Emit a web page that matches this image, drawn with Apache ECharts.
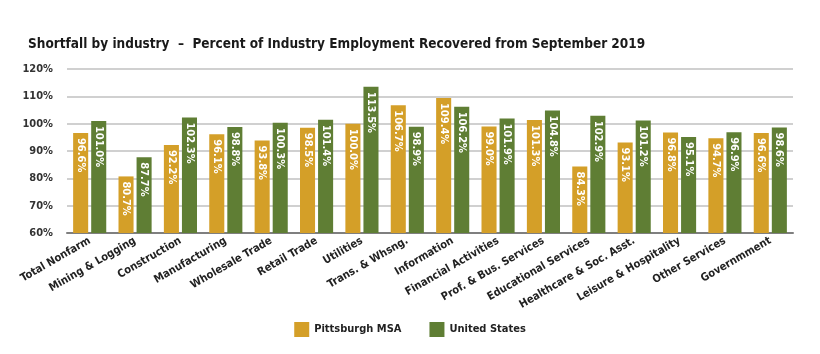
<!DOCTYPE html>
<html>
<head>
<meta charset="utf-8">
<script src="https://cdn.jsdelivr.net/npm/echarts@6/dist/echarts.min.js"></script>
<style>
  html, body { margin: 0; padding: 0; background: #fff; }
  #chartDiv { width: 820px; height: 354px; }
</style>
</head>
<body>
<div id="chartDiv"></div>
<script>
// industries along the x axis
var industries = ['Total Nonfarm', 'Mining & Logging', 'Construction', 'Manufacturing', 'Wholesale Trade',
  'Retail Trade', 'Utilities', 'Trans. & Whsng.', 'Information', 'Financial Activities',
  'Prof. & Bus. Services', 'Educational Services', 'Healthcare & Soc. Asst.', 'Leisure & Hospitality',
  'Other Services', 'Governmment'];

// percent of sept 2019 employment recovered
var pittsburghValues = [96.6, 80.7, 92.2, 96.1, 93.8, 98.5, 100.0, 106.7, 109.4, 99.0, 101.3, 84.3, 93.1, 96.8, 94.7, 96.6];
var usValues = [101.0, 87.7, 102.3, 98.8, 100.3, 101.4, 113.5, 98.9, 106.2, 101.9, 104.8, 102.9, 101.2, 95.1, 96.9, 98.6];

var seriesNames = ['Pittsburgh MSA', 'United States'];

var FONT = '"DejaVu Sans Condensed", "Liberation Sans Narrow", Roboto, sans-serif';

var myChart = echarts.init(document.getElementById('chartDiv'));

var labelStyle = {
    show: true,
    position: 'insideTop',
    rotate: -90,
    align: 'left',
    verticalAlign: 'middle',
    distance: 5,
    color: '#fff',
    fontFamily: FONT,
    fontWeight: 'bold',
    fontSize: 11,
    formatter: function (p) { return p.value.toFixed(1) + '%'; }
};

var option = {
    backgroundColor: '#fff',
    animation: false,
    title: {
        text: 'Shortfall by industry  \u2013  Percent of Industry Employment Recovered from September 2019',
        left: 23,
        top: 32,
        textStyle: { fontFamily: FONT, fontWeight: 'bold', fontSize: 13.5, color: '#1a1a1a' }
    },
    legend: {
        data: seriesNames,
        bottom: 12,
        left: 'center',
        itemWidth: 15,
        itemHeight: 15,
        itemGap: 28,
        icon: 'rect',
        textStyle: { fontFamily: FONT, fontWeight: 'bold', fontSize: 11, color: '#222' }
    },
    grid: { left: 67, right: 27, top: 69, bottom: 121 },
    xAxis: [{
        type: 'category',
        data: industries,
        axisTick: { show: false },
        axisLine: { lineStyle: { color: '#7f7f7f', width: 2 } },
        axisLabel: {
            interval: 0,
            rotate: 30,
            margin: 7,
            fontFamily: FONT,
            fontWeight: 'bold',
            fontSize: 11,
            color: '#222'
        }
    }],
    yAxis: [{
        type: 'value',
        min: 60,
        max: 120,
        interval: 10,
        axisLine: { show: false },
        axisTick: { show: false },
        splitLine: { lineStyle: { color: '#c0c0c0', width: 1.5 } },
        axisLabel: {
            formatter: '{value}%',
            margin: 14,
            fontFamily: FONT,
            fontWeight: 'bold',
            fontSize: 11,
            color: '#333'
        }
    }],
    series: [{
        name: seriesNames[0],
        type: 'bar',
        barGap: '20%',
        barCategoryGap: '27%',
        itemStyle: { color: '#D49F28' },
        label: labelStyle,
        data: pittsburghValues
    }, {
        name: seriesNames[1],
        type: 'bar',
        itemStyle: { color: '#5F7E34' },
        label: labelStyle,
        data: usValues
    }]
};

myChart.setOption(option);
</script>
</body>
</html>
